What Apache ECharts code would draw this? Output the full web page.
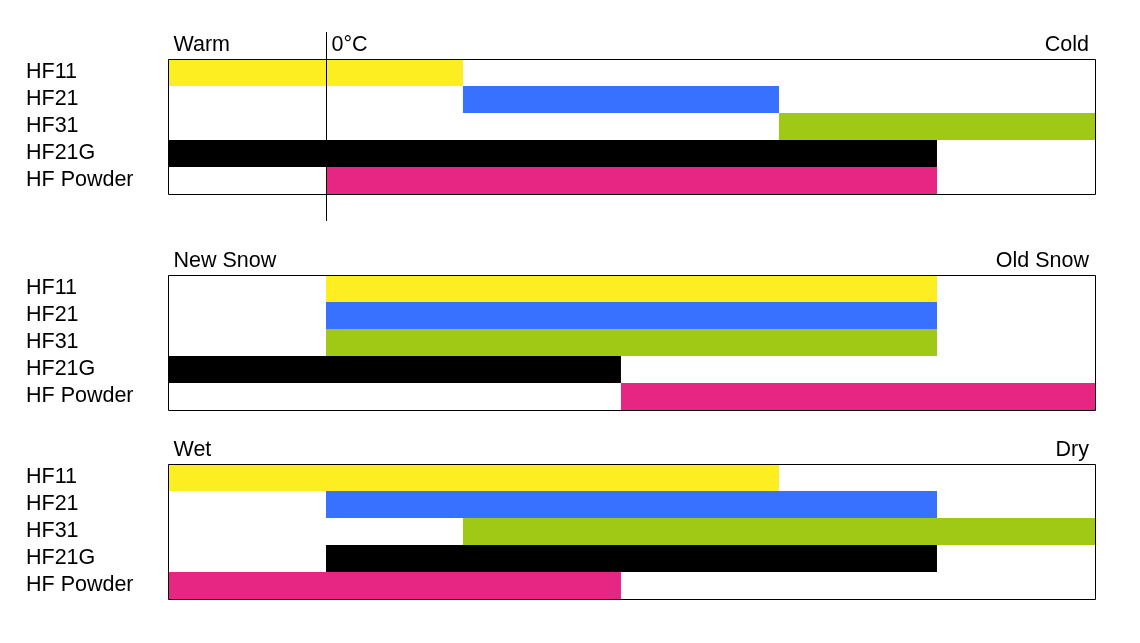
<!DOCTYPE html>
<html>
<head>
<meta charset="utf-8">
<script src="https://cdn.jsdelivr.net/npm/echarts@6/dist/echarts.min.js"></script>
<style>
html,body{margin:0;padding:0;background:#fff;}
#chart{width:1140px;height:643px;}
</style>
</head>
<body>
<div id="chart"></div>
<script>
// ---- data ----
const categories = ['HF11', 'HF21', 'HF31', 'HF21G', 'HF Powder'];
const productColors = ['#FCEE21', '#3870FF', '#9FC915', '#000000', '#E72683'];
// common relative scale, 0 (left end) .. 88 (right end)
const scaleMin = 0;
const scaleMax = 88;
// Temperature: Warm -> Cold
const tempStart = [0, 28, 58, 0, 15];
const tempEnd   = [28, 58, 88, 73, 73];
const tempLabels = ['Warm', '0°C', 'Cold'];
const tempLabelAt = [0, 15, 88];
const zeroCelsiusAt = 15;
// Snow age: New Snow -> Old Snow
const snowStart = [15, 15, 15, 0, 43];
const snowEnd   = [73, 73, 73, 43, 88];
const snowLabels = ['New Snow', 'Old Snow'];
const snowLabelAt = [0, 88];
// Moisture: Wet -> Dry
const wetStart = [0, 15, 28, 15, 0];
const wetEnd   = [58, 73, 88, 73, 43];
const wetLabels = ['Wet', 'Dry'];
const wetLabelAt = [0, 88];

const FONT = 'Liberation Sans, Arial, sans-serif';
const FS = 21.5;

const panels = [
  {start: tempStart, end: tempEnd, labels: tempLabels, at: tempLabelAt, zero: zeroCelsiusAt, top: 59},
  {start: snowStart, end: snowEnd, labels: snowLabels, at: snowLabelAt, zero: null, top: 275},
  {start: wetStart, end: wetEnd, labels: wetLabels, at: wetLabelAt, zero: null, top: 464}
];

const grids = [], xAxes = [], yAxes = [], series = [];

panels.forEach((p, gi) => {
  grids.push({left: 168, width: 927, top: p.top, height: 135, show: false});
  xAxes.push({type: 'value', gridIndex: gi, min: scaleMin, max: scaleMax, show: false});
  yAxes.push({
    type: 'category', gridIndex: gi, data: categories, inverse: true,
    axisLine: {show: false}, axisTick: {show: false}, splitLine: {show: false},
    axisLabel: {interval: 0, hideOverlap: false, align: 'left', margin: 142, fontSize: FS, fontFamily: FONT, color: '#000'}
  });
  const barData = categories.map((c, i) => [p.start[i], p.end[i], i]);
  series.push({
    type: 'custom', xAxisIndex: gi, yAxisIndex: gi, data: barData,
    encode: {x: [0, 1], y: 2}, z: 2,
    renderItem: function (params, api) {
      const i = api.value(2);
      const s = api.coord([api.value(0), i]);
      const e = api.coord([api.value(1), i]);
      const h = api.size([0, 1])[1];
      return {type: 'rect', shape: {x: s[0], y: s[1] - h / 2, width: e[0] - s[0], height: h},
              style: {fill: productColors[i]}};
    }
  });
  const labelData = p.labels.map((t, k) => [p.at[k], 0, t]);
  series.push({
    type: 'custom', xAxisIndex: gi, yAxisIndex: gi, data: [[0, 0]], z: 5, clip: false,
    silent: true,
    renderItem: function (params, api) {
      const cs = params.coordSys;
      const h = api.size([0, 1])[1];
      const children = [];
      children.push({type: 'rect', shape: {x: Math.round(cs.x) + 0.5, y: Math.round(cs.y) + 0.5,
        width: Math.round(cs.width), height: Math.round(cs.height)},
        style: {fill: 'none', stroke: '#000', lineWidth: 1}});
      if (p.zero !== null) {
        const zx = Math.round(api.coord([p.zero, 0])[0]) + 0.5;
        children.push({type: 'line', shape: {x1: zx, y1: cs.y - h, x2: zx, y2: cs.y + cs.height + h},
          style: {stroke: '#000', lineWidth: 1}});
      }
      labelData.forEach((d, k) => {
        const x = api.coord([d[0], 0])[0];
        let align = 'left', dx = 5.5;
        if (d[0] === scaleMax) { align = 'right'; dx = -6; }
        children.push({type: 'text', style: {
          text: d[2], x: x + dx, y: cs.y - 13.5, align: align, verticalAlign: 'middle',
          fontSize: FS, fontFamily: FONT, fill: '#000'}});
      });
      return {type: 'group', children: children};
    }
  });
});

const chart = echarts.init(document.getElementById('chart'), null, {renderer: 'canvas'});
chart.setOption({
  animation: false,
  backgroundColor: '#fff',
  grid: grids, xAxis: xAxes, yAxis: yAxes, series: series
});
</script>
</body>
</html>
